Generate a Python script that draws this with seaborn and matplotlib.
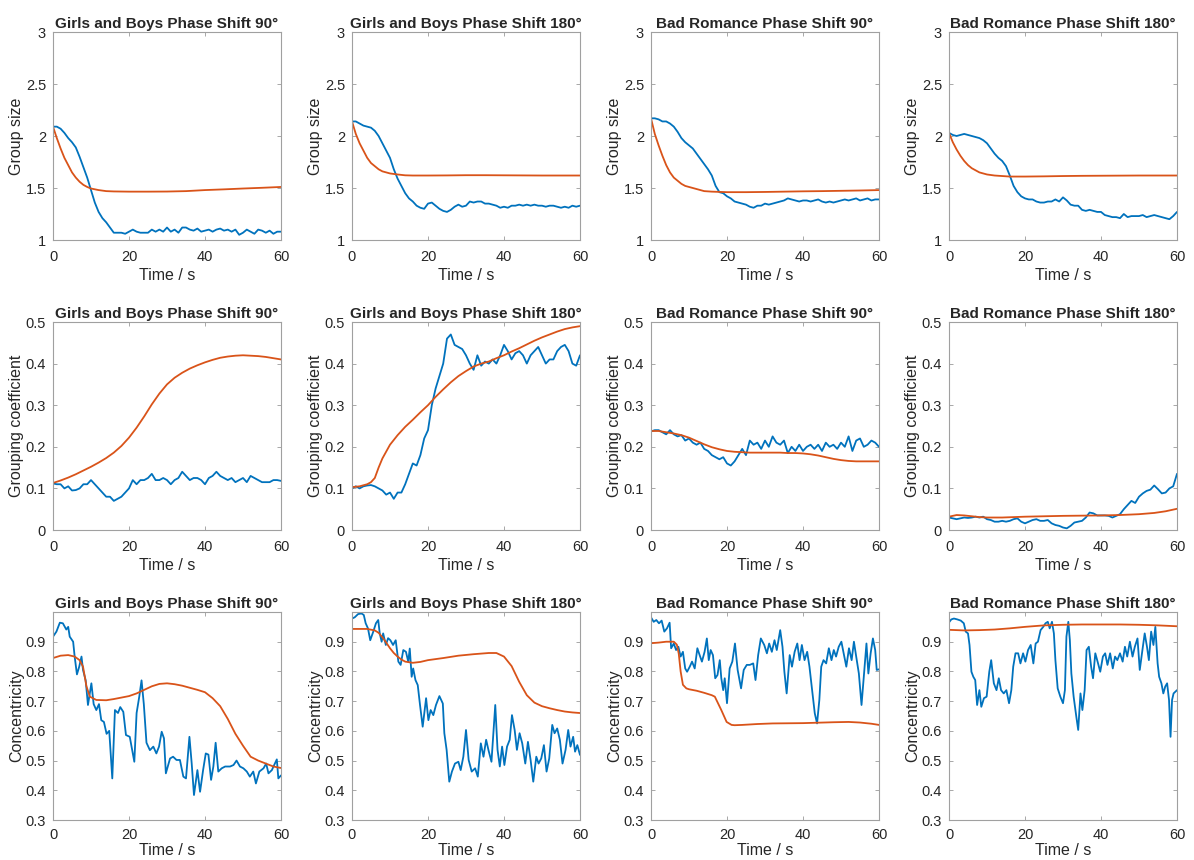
import numpy as np
import matplotlib
matplotlib.use("Agg")
import matplotlib.pyplot as plt
from matplotlib.ticker import FormatStrFormatter
import seaborn as sns

sns.set_theme(style="white")
plt.rcParams["font.family"] = ["Liberation Sans", "DejaVu Sans"]

BLUE = "#0072BD"
ORANGE = "#D95319"

sec = list(range(61))

# ---- group size (row 1) ----
gs_gb90_blue = [2.09, 2.09, 2.07, 2.03, 1.98, 1.94, 1.89, 1.80, 1.70, 1.60, 1.48,
                1.36, 1.27, 1.21, 1.17, 1.12, 1.07, 1.07, 1.07, 1.06, 1.08,
                1.10, 1.08, 1.07, 1.07, 1.07, 1.10, 1.08, 1.10, 1.08, 1.12,
                1.08, 1.10, 1.07, 1.12, 1.12, 1.10, 1.09, 1.11, 1.08, 1.09,
                1.10, 1.08, 1.10, 1.11, 1.09, 1.10, 1.08, 1.10, 1.05, 1.07,
                1.10, 1.08, 1.06, 1.10, 1.09, 1.07, 1.09, 1.06, 1.08, 1.08]
gs_gb180_blue = [2.14, 2.14, 2.12, 2.10, 2.09, 2.08, 2.05, 2.00, 1.93, 1.86, 1.79,
                 1.68, 1.59, 1.52, 1.45, 1.40, 1.37, 1.33, 1.31, 1.30, 1.35,
                 1.36, 1.33, 1.30, 1.28, 1.27, 1.29, 1.32, 1.34, 1.32, 1.33,
                 1.37, 1.36, 1.37, 1.37, 1.35, 1.35, 1.34, 1.33, 1.31, 1.32,
                 1.31, 1.33, 1.33, 1.34, 1.33, 1.34, 1.33, 1.34, 1.33, 1.33,
                 1.32, 1.33, 1.33, 1.32, 1.31, 1.32, 1.31, 1.33, 1.32, 1.33]
gs_br90_blue = [2.17, 2.17, 2.16, 2.14, 2.14, 2.12, 2.09, 2.04, 1.98, 1.94, 1.91,
                1.88, 1.83, 1.78, 1.73, 1.68, 1.62, 1.52, 1.46, 1.45, 1.42,
                1.40, 1.37, 1.36, 1.35, 1.34, 1.32, 1.31, 1.33, 1.33, 1.35,
                1.34, 1.35, 1.36, 1.37, 1.38, 1.40, 1.39, 1.38, 1.37, 1.38,
                1.38, 1.37, 1.38, 1.39, 1.37, 1.36, 1.37, 1.36, 1.37, 1.38,
                1.39, 1.38, 1.39, 1.40, 1.38, 1.39, 1.40, 1.38, 1.39, 1.39]
gs_br180_blue = [2.03, 2.01, 2.00, 2.01, 2.02, 2.01, 2.00, 1.99, 1.98, 1.96, 1.93,
                 1.88, 1.83, 1.79, 1.76, 1.71, 1.62, 1.52, 1.46, 1.42, 1.40,
                 1.39, 1.39, 1.37, 1.36, 1.36, 1.37, 1.37, 1.39, 1.37, 1.41,
                 1.38, 1.34, 1.33, 1.33, 1.29, 1.28, 1.29, 1.28, 1.27, 1.27,
                 1.24, 1.23, 1.22, 1.22, 1.21, 1.25, 1.22, 1.23, 1.23, 1.23,
                 1.24, 1.22, 1.23, 1.24, 1.23, 1.22, 1.21, 1.20, 1.23, 1.27]

gs_orange_t = [0, 1, 2, 3, 4, 5, 6, 7, 8, 9, 10, 12, 14, 16, 20, 25, 30, 35, 40, 45, 50, 55, 60]
gs_gb90_orange = [2.09, 1.98, 1.88, 1.79, 1.72, 1.65, 1.60, 1.56, 1.53, 1.51, 1.495, 1.48,
                  1.47, 1.467, 1.465, 1.465, 1.466, 1.47, 1.48, 1.487, 1.495, 1.502, 1.51]
gs_gb180_orange = [2.14, 2.02, 1.93, 1.86, 1.79, 1.74, 1.71, 1.68, 1.66, 1.65, 1.64, 1.63,
                   1.622, 1.62, 1.62, 1.621, 1.623, 1.623, 1.622, 1.621, 1.62, 1.62, 1.62]
gs_br90_orange = [2.17, 2.02, 1.91, 1.81, 1.72, 1.65, 1.60, 1.57, 1.54, 1.52, 1.51, 1.49,
                  1.47, 1.465, 1.46, 1.46, 1.462, 1.465, 1.468, 1.47, 1.473, 1.476, 1.48]
gs_br180_orange = [2.03, 1.94, 1.87, 1.81, 1.76, 1.72, 1.69, 1.67, 1.65, 1.64, 1.63, 1.62,
                   1.615, 1.61, 1.61, 1.612, 1.615, 1.617, 1.618, 1.619, 1.62, 1.62, 1.62]

# ---- grouping coefficient (row 2) ----
gc_gb90_blue = [.112, .11, .11, .10, .105, .095, .096, .10, .11, .11, .12,
                .11, .10, .09, .08, .08, .07, .075, .08, .09, .10,
                .12, .11, .12, .12, .125, .135, .12, .12, .125, .12,
                .11, .12, .125, .14, .13, .12, .125, .125, .12, .11,
                .125, .13, .14, .13, .125, .12, .125, .115, .12, .125,
                .115, .13, .125, .12, .115, .115, .115, .12, .12, .118]
gc_gb180_blue = [.10, .105, .10, .105, .107, .108, .105, .10, .095, .085, .09,
                 .075, .09, .09, .11, .135, .16, .155, .18, .22, .24,
                 .30, .34, .37, .40, .46, .47, .445, .44, .435, .42,
                 .40, .385, .42, .395, .405, .40, .41, .40, .42, .445,
                 .43, .41, .425, .43, .42, .40, .42, .43, .44, .42,
                 .40, .41, .41, .43, .44, .445, .43, .40, .395, .42]
gc_br90_blue = [.237, .24, .24, .235, .23, .24, .23, .225, .228, .215, .22,
                .21, .205, .21, .195, .19, .18, .175, .17, .175, .16,
                .155, .165, .18, .195, .18, .215, .205, .21, .195, .215,
                .20, .225, .21, .205, .215, .185, .20, .19, .205, .19,
                .20, .205, .195, .205, .19, .21, .20, .205, .195, .21,
                .20, .225, .19, .215, .22, .20, .205, .215, .21, .20]
gc_br180_blue = [.03, .028, .026, .028, .03, .029, .03, .032, .03, .032, .026,
                 .024, .02, .02, .022, .02, .022, .026, .028, .02, .016,
                 .02, .024, .026, .022, .022, .024, .016, .012, .01, .006,
                 .004, .01, .018, .02, .022, .03, .042, .04, .035, .035,
                 .035, .034, .03, .034, .038, .05, .06, .07, .065, .08,
                 .088, .094, .097, .107, .098, .088, .09, .10, .105, .135]

gc_even_t = list(range(0, 61, 2))
gc_gb90_orange = [.113, .119, .126, .134, .143, .152, .162, .173, .186, .202, .222,
                  .246, .273, .302, .328, .350, .366, .378, .388, .396, .403,
                  .409, .414, .417, .419, .42, .419, .418, .416, .413, .41]
gc_gb180_orange_t = [0, 2, 4, 5, 6, 7, 8, 10, 12, 14, 16, 18, 20, 22, 24, 26, 28, 30,
                     32, 34, 36, 38, 40, 42, 44, 46, 48, 50, 52, 54, 56, 58, 60]
gc_gb180_orange = [.103, .105, .11, .115, .125, .15, .172, .205, .228, .248, .265, .283,
                   .30, .32, .338, .355, .37, .382, .393, .40, .405, .413, .42, .429,
                   .437, .446, .455, .463, .47, .477, .483, .487, .49]
gc_br90_orange = [.238, .238, .235, .232, .228, .222, .214, .206, .199, .194, .19,
                  .188, .187, .186, .186, .186, .186, .186, .185, .185, .184,
                  .182, .179, .175, .171, .168, .166, .165, .165, .165, .165]
gc_br180_orange_t = [0, 2, 4, 6, 8, 10, 14, 20, 30, 40, 45, 50, 54, 57, 60]
gc_br180_orange = [.032, .036, .035, .033, .031, .03, .03, .032, .034, .035, .036,
                   .038, .041, .045, .051]

# ---- concentricity (row 3) ----
cc_gb90_blue_t = [0, 0.9, 1.8, 2.6, 3.5, 4, 4.4, 5.3, 5.7, 6.3, 6.9, 7.5, 7.9, 8.6, 9.2,
                  10.1, 10.7, 11.4, 12.1, 12.7, 13.4, 14.1, 14.8, 15.6, 16.3, 17.1, 17.7,
                  18.5, 19.2, 20.2, 21.4, 22, 22.7, 23.3, 23.9, 24.6, 25.5, 26.4, 27.2,
                  27.9, 28.6, 29.2, 29.7, 30.8, 31.6, 32.5, 33.4, 34.3, 35, 35.9, 36.5,
                  37.1, 38, 38.7, 39.5, 40.2, 40.9, 41.6, 42.2, 42.8, 43.5, 44.4, 45.3,
                  46.6, 47.5, 48.3, 49.2, 50.1, 51, 51.8, 52.7, 53.4, 54.3, 55.4, 56.1,
                  56.7, 57.6, 58.2, 58.9, 59.3, 60]
cc_gb90_blue = [.917, .934, .964, .962, .941, .95, .917, .90, .85, .79, .816, .85, .805,
                .77, .687, .76, .69, .67, .69, .636, .63, .59, .60, .44, .67, .66, .68,
                .664, .586, .58, .496, .66, .715, .77, .69, .56, .535, .547, .524,
                .547, .597, .575, .457, .507, .513, .502, .502, .446, .44, .58, .49,
                .384, .468, .395, .468, .524, .52, .435, .48, .56, .463, .474, .48,
                .48, .485, .50, .48, .474, .463, .446, .463, .423, .463, .474, .49,
                .457, .468, .485, .504, .44, .45]
cc_gb90_orange_t = [0, 2, 4, 5.7, 7, 7.9, 8.8, 9.7, 11.4, 14, 16, 18, 20, 22, 24, 26, 28,
                    30, 32, 34, 36, 38, 40, 42, 44, 46, 48, 50, 52, 54, 56, 58, 60]
cc_gb90_orange = [.845, .853, .855, .85, .838, .816, .75, .715, .704, .703, .707, .712,
                  .717, .726, .738, .75, .758, .76, .757, .752, .745, .738, .73, .71,
                  .683, .64, .59, .55, .513, .50, .49, .48, .475]

cc_gb180_blue_t = [0, 0.7, 1.6, 2.5, 3.1, 3.6, 4.2, 4.8, 5.6, 6.3, 6.9, 7.3, 7.8, 8.2,
                   8.9, 9.5, 10.1, 10.8, 11.5, 12.2, 12.8, 13.5, 14.2, 14.8, 15.2, 15.7,
                   16.1, 16.7, 17.3, 17.9, 18.6, 19.5, 20.1, 20.7, 21.4, 22.1, 23, 23.9,
                   24.3, 24.9, 25.6, 26.3, 27.1, 28, 28.6, 29.3, 30, 30.7, 31.5, 32.4,
                   33.1, 33.9, 34.6, 35.3, 35.9, 36.7, 37.7, 38.3, 38.9, 39.5, 40.1, 40.8,
                   41.5, 42.1, 42.8, 43.4, 44.1, 44.8, 45.6, 46.3, 47, 47.7, 48.5, 49.1,
                   49.8, 50.5, 51.2, 51.9, 52.7, 53.3, 54, 54.7, 55.4, 56.2, 56.9, 57.5,
                   58.2, 58.7, 59.3, 60]
cc_gb180_blue = [.978, .982, .993, .995, .99, .962, .945, .905, .934, .962, .973, .928,
                 .90, .928, .889, .912, .905, .889, .905, .833, .822, .872, .866, .833,
                 .877, .782, .81, .771, .754, .687, .614, .71, .636, .67, .653, .687,
                 .717, .692, .592, .536, .429, .463, .49, .496, .468, .513, .603, .502,
                 .463, .474, .446, .558, .513, .57, .536, .496, .687, .536, .48, .547,
                 .485, .547, .57, .653, .603, .536, .592, .558, .49, .563, .502, .429,
                 .513, .49, .507, .552, .463, .507, .62, .592, .608, .57, .49, .536,
                 .603, .547, .58, .53, .552, .519]
cc_gb180_orange_t = [0, 4, 6, 7, 8, 9, 10, 11, 12, 13, 14, 16, 18, 20, 24, 28, 32, 36,
                     38, 40, 42, 44, 46, 48, 50, 52, 54, 56, 58, 60]
cc_gb180_orange = [.943, .943, .938, .93, .915, .897, .878, .862, .85, .84, .833, .829,
                   .832, .838, .845, .853, .858, .862, .862, .85, .818, .765, .72, .695,
                   .683, .676, .67, .665, .662, .66]

cc_br90_blue_t = [0, 0.7, 1.4, 2.1, 2.8, 3.5, 4.2, 4.9, 5.3, 6, 6.6, 7.2, 7.8, 8.4, 9,
                  9.5, 10.2, 10.8, 11.5, 12.2, 12.8, 13.4, 14.1, 14.7, 15.2, 15.7, 16.3,
                  16.9, 17.5, 18.1, 18.5, 19, 19.4, 20, 20.7, 21.4, 22.1, 22.8, 23.7,
                  24.4, 25.2, 26, 26.9, 27.5, 28.2, 28.9, 29.8, 30.5, 31.1, 31.8, 32.5,
                  33.1, 34, 34.6, 35.1, 35.7, 36.5, 37.1, 37.8, 38.5, 39.1, 39.7, 40.4,
                  41.1, 41.7, 42.4, 43.1, 43.7, 44.3, 44.8, 45.4, 46.1, 46.8, 47.5, 48.1,
                  48.7, 49.4, 50.1, 50.7, 51.4, 52.1, 52.8, 53.4, 54, 54.7, 55.4, 56,
                  56.7, 57.2, 57.8, 58.4, 59, 59.4, 60]
cc_br90_blue = [.982, .967, .973, .962, .971, .934, .945, .964, .878, .894, .872, .883,
                .85, .866, .81, .799, .816, .833, .81, .878, .855, .833, .866, .911,
                .838, .872, .855, .777, .788, .838, .777, .737, .777, .693, .81, .833,
                .894, .805, .743, .805, .822, .822, .827, .771, .855, .911, .889, .861,
                .894, .866, .905, .872, .939, .883, .799, .726, .855, .816, .866, .894,
                .838, .889, .838, .866, .816, .737, .659, .625, .704, .816, .838, .827,
                .878, .838, .872, .85, .883, .90, .861, .816, .878, .838, .90, .85,
                .793, .687, .782, .894, .793, .861, .911, .872, .805, .807]
cc_br90_orange_t = [0, 2, 4, 6, 6.8, 7.3, 7.8, 8.4, 9.3, 10, 12, 14, 16, 16.8, 18.5,
                    19.9, 21.2, 22, 24, 28, 32, 40, 48, 52, 55, 58, 60]
cc_br90_orange = [.895, .897, .90, .90, .89, .86, .80, .755, .743, .74, .735, .728, .72,
                  .715, .67, .63, .62, .619, .62, .623, .625, .626, .629, .63, .628,
                  .624, .62]

cc_br180_blue_t = [0, 0.6, 1.3, 2.2, 3.1, 3.9, 4.4, 5, 5.4, 5.9, 6.4, 6.9, 7.4, 8, 8.5,
                   9.2, 9.9, 10.6, 11.1, 11.8, 12.5, 13.1, 13.7, 14.4, 15.1, 15.8, 16.4,
                   16.9, 17.5, 18.2, 18.8, 19.5, 20.1, 20.8, 21.5, 22.2, 22.8, 23.4, 24.1,
                   24.8, 25.4, 26, 26.5, 27.1, 27.6, 28, 28.6, 29.3, 30, 30.5, 30.9, 31.4,
                   31.8, 32.2, 32.8, 33.5, 34, 34.6, 35.1, 35.7, 36.2, 36.8, 37.4, 37.9,
                   38.5, 39.1, 39.8, 40.5, 41.1, 41.7, 42.4, 43.1, 43.7, 44.3, 45, 45.7,
                   46.3, 46.9, 47.6, 48.3, 48.9, 49.6, 50.2, 50.9, 51.5, 52.1, 52.6, 53.2,
                   53.8, 54.3, 54.9, 55.3, 55.9, 56.4, 56.9, 57.4, 57.9, 58.3, 58.7, 59.1,
                   60]
cc_br180_blue = [.965, .975, .978, .975, .971, .962, .934, .928, .889, .799, .782, .771,
                 .687, .737, .681, .71, .715, .799, .838, .76, .737, .777, .737, .726,
                 .737, .693, .737, .816, .861, .861, .827, .861, .833, .872, .889, .827,
                 .894, .90, .939, .95, .962, .967, .945, .967, .928, .838, .743, .715,
                 .693, .737, .917, .967, .906, .793, .715, .648, .603, .726, .67, .737,
                 .872, .883, .816, .777, .861, .833, .799, .85, .861, .822, .861, .81,
                 .85, .838, .861, .833, .883, .85, .90, .85, .883, .911, .805, .872,
                 .928, .883, .838, .934, .889, .95, .827, .782, .76, .726, .749, .76,
                 .704, .58, .704, .726, .737]
cc_br180_orange_t = [0, 4, 8, 12, 16, 20, 25, 30, 35, 40, 45, 50, 55, 60]
cc_br180_orange = [.94, .938, .939, .941, .945, .95, .955, .957, .958, .958, .958, .957,
                   .955, .952]

titles = ["Girls and Boys Phase Shift 90\u00b0", "Girls and Boys Phase Shift 180\u00b0",
          "Bad Romance Phase Shift 90\u00b0", "Bad Romance Phase Shift 180\u00b0"]

rows = [
    dict(ylabel="Group size", ylim=(1, 3), yticks=[1, 1.5, 2, 2.5, 3],
         blue=[(sec, gs_gb90_blue), (sec, gs_gb180_blue), (sec, gs_br90_blue), (sec, gs_br180_blue)],
         orange=[(gs_orange_t, gs_gb90_orange), (gs_orange_t, gs_gb180_orange),
                 (gs_orange_t, gs_br90_orange), (gs_orange_t, gs_br180_orange)]),
    dict(ylabel="Grouping coefficient", ylim=(0, 0.5), yticks=[0, 0.1, 0.2, 0.3, 0.4, 0.5],
         blue=[(sec, gc_gb90_blue), (sec, gc_gb180_blue), (sec, gc_br90_blue), (sec, gc_br180_blue)],
         orange=[(gc_even_t, gc_gb90_orange), (gc_gb180_orange_t, gc_gb180_orange),
                 (gc_even_t, gc_br90_orange), (gc_br180_orange_t, gc_br180_orange)]),
    dict(ylabel="Concentricity", ylim=(0.3, 1.0), yticks=[0.3, 0.4, 0.5, 0.6, 0.7, 0.8, 0.9],
         blue=[(cc_gb90_blue_t, cc_gb90_blue), (cc_gb180_blue_t, cc_gb180_blue),
               (cc_br90_blue_t, cc_br90_blue), (cc_br180_blue_t, cc_br180_blue)],
         orange=[(cc_gb90_orange_t, cc_gb90_orange), (cc_gb180_orange_t, cc_gb180_orange),
                 (cc_br90_orange_t, cc_br90_orange), (cc_br180_orange_t, cc_br180_orange)]),
]

W, H = 1194, 860
fig = plt.figure(figsize=(W / 100, H / 100), dpi=100)

col_left = [53, 352, 651, 949]
row_bottom = [240, 530, 820]
ax_w, ax_h = 228, 208

for r, spec in enumerate(rows):
    for c in range(4):
        ax = fig.add_axes([col_left[c] / W, 1 - row_bottom[r] / H, ax_w / W, ax_h / H])
        bt, bv = spec["blue"][c]
        ot, ov = spec["orange"][c]
        sns.lineplot(x=bt, y=bv, ax=ax, color=BLUE, lw=1.3, sort=False)
        sns.lineplot(x=ot, y=ov, ax=ax, color=ORANGE, lw=1.3, sort=False)
        ax.set_xlim(0, 60)
        ax.set_ylim(*spec["ylim"])
        ax.set_xticks([0, 20, 40, 60])
        ax.set_yticks(spec["yticks"])
        ax.yaxis.set_major_formatter(FormatStrFormatter("%g"))
        ax.set_xlabel("Time / s", fontsize=11.5, color="#262626",
                      labelpad=3 if r < 2 else 0.5)
        ax.set_ylabel(spec["ylabel"], fontsize=11.5, color="#262626", labelpad=1)
        ax.set_title(titles[c], fontsize=11, fontweight="bold", pad=3)
        ax.tick_params(direction="in", length=3, width=0.6, color="#9a9a9a",
                       labelsize=10.5, labelcolor="#262626", top=True, right=True,
                       left=True, bottom=True)
        ax.tick_params(axis="x", pad=7 if r < 2 else 6)
        ax.tick_params(axis="y", pad=5)
        for s in ax.spines.values():
            s.set_color("#a0a0a0")
            s.set_linewidth(0.8)

fig.savefig("out.png", dpi=100)
